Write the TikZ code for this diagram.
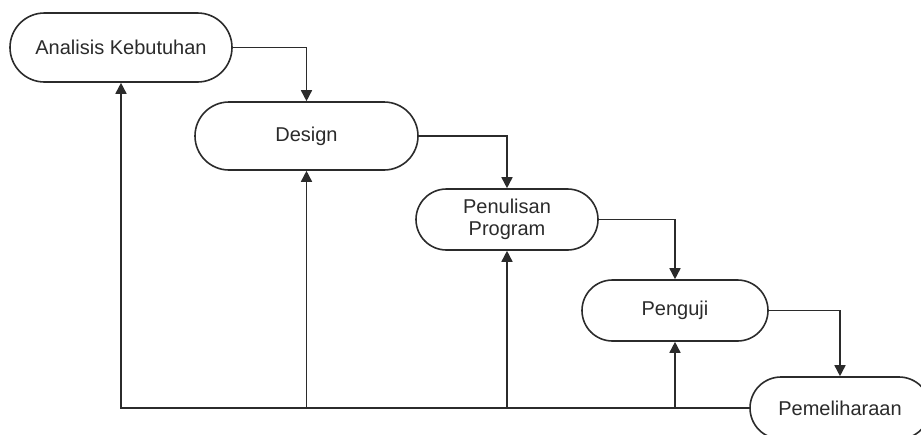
\documentclass[tikz,border=0pt]{standalone}
\usepackage{fontspec}
\setmainfont{Liberation Sans}
\usetikzlibrary{arrows.meta}
\definecolor{ink}{HTML}{2B2B2B}
\tikzset{
  stage/.style={draw=ink, line width=1.6pt, fill=white, rectangle, inner sep=0pt,
    text=ink, align=center, font=\fontsize{20}{22}\selectfont},
  flow/.style={draw=ink, line width=1.6pt, -{Triangle[width=11pt,length=11pt]}},
}
\begin{document}
\begin{tikzpicture}[x=1pt,y=-1pt]
\useasboundingbox (0,0) rectangle (921,434);
\clip (0,0) rectangle (921,434);
\node[stage, minimum width=222pt, minimum height=69pt, rounded corners=34.5pt] (n1) at (121,47.5) {Analisis Kebutuhan};
\node[stage, minimum width=223pt, minimum height=68pt, rounded corners=34pt] (n2) at (306.5,136) {Design};
\node[stage, minimum width=182pt, minimum height=61pt, rounded corners=30.5pt] (n3) at (507,219.5) {Penulisan\\Program};
\node[stage, minimum width=186pt, minimum height=61pt, rounded corners=30.5pt] (n4) at (675,310.5) {Penguji};
\node[stage, minimum width=180pt, minimum height=62pt, rounded corners=31pt] (n5) at (840,408) {Pemeliharaan};
\draw[flow] (n1.east) -| (n2.north);
\draw[flow] (n2.east) -| (n3.north);
\draw[flow] (n3.east) -| (n4.north);
\draw[flow] (n4.east) -| (n5.north);
\draw[flow] (n5.west) -| (n1.south);
\draw[flow] (n2.south |- n5.west) -- (n2.south);
\draw[flow] (n3.south |- n5.west) -- (n3.south);
\draw[flow] (n4.south |- n5.west) -- (n4.south);
\end{tikzpicture}
\end{document}
